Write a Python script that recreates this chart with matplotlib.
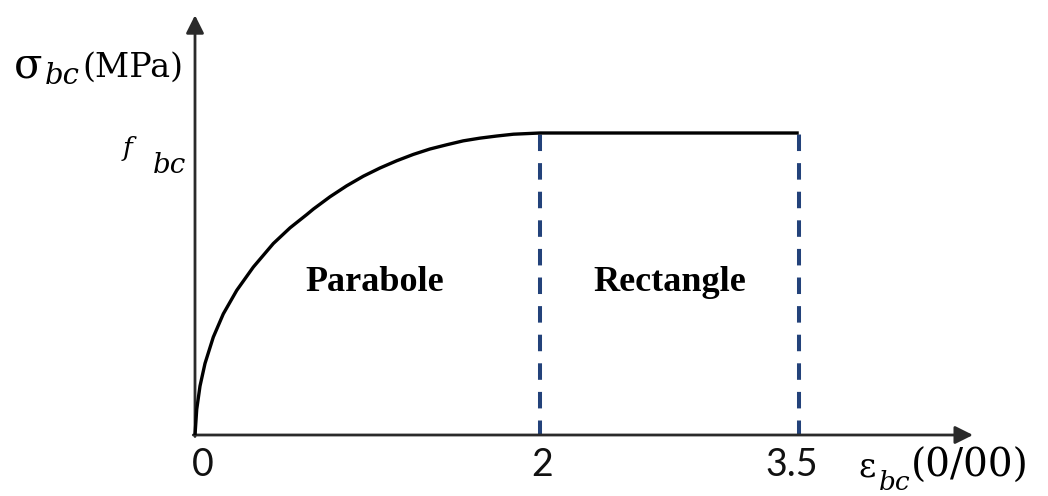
import matplotlib.pyplot as plt

# strain (per mille) and stress / f_bc along the parabola branch
eps_parab = [0.0, 0.010, 0.029, 0.058, 0.106, 0.164, 0.242, 0.338, 0.454,
             0.551, 0.648, 0.686, 0.783, 0.879, 0.976, 1.072, 1.169, 1.265,
             1.362, 1.459, 1.555, 1.652, 1.749, 1.846, 2.0]
sig_parab = [0.0, 0.085, 0.162, 0.237, 0.324, 0.401, 0.479, 0.556, 0.634,
             0.686, 0.730, 0.748, 0.789, 0.825, 0.857, 0.884, 0.908, 0.929,
             0.947, 0.961, 0.974, 0.983, 0.990, 0.996, 1.0]

# rectangle branch
eps_rect = [2.0, 3.5]
sig_rect = [1.0, 1.0]

tick_pos = [0, 2, 3.5]
tick_labels = ["0", "2", "3.5"]

# arrow tips of the two axes
x_end = 4.51
y_end = 1.39

fig = plt.figure(figsize=(10.48, 4.96), dpi=100)
ax = fig.add_axes([0, 0, 1, 1])
ax.set_xlim(-195 / 172.5, (1048 - 195) / 172.5)
ax.set_ylim(-(496 - 435) / 302, 435 / 302)
ax.axis("off")

# axes with arrows
arrow = dict(arrowstyle="-|>", mutation_scale=27, lw=2.0, color="#2a2a2a",
             shrinkA=0, shrinkB=0)
ax.annotate("", xy=(x_end, 0), xytext=(-0.01, 0), arrowprops=arrow)
ax.annotate("", xy=(0, y_end), xytext=(0, -0.005), arrowprops=arrow)

# dashed limits of the two zones
for e in tick_pos[1:]:
    ax.plot([e, e], [0, 1.0], color="#23427a", lw=2.9,
            linestyle=(0.5, (4.1, 3.0)), zorder=2)

# stress-strain law
ax.plot(eps_parab + eps_rect[1:], sig_parab + sig_rect[1:], color="black",
        lw=2.4, solid_joinstyle="round", solid_capstyle="butt", zorder=3)

# tick labels
tick_shift = [0.045, 0.01, -0.04]
for p, d, t in zip(tick_pos, tick_shift, tick_labels):
    ax.text(p + d, -0.04, t, ha="center", va="top", fontsize=27,
            family="Lato", color="#111111")

# zone names
ax.text(1.04, 0.505, "Parabole", ha="center", va="center", fontsize=26,
        family="Liberation Serif", fontweight="bold")
ax.text(2.75, 0.505, "Rectangle", ha="center", va="center", fontsize=26,
        family="Liberation Serif", fontweight="bold")

# y label
ax.text(-1.05, 1.185, "σ", ha="left", va="baseline", fontsize=30,
        family="DejaVu Serif")
ax.text(-0.872, 1.163, "bc", ha="left", va="baseline", fontsize=21,
        family="DejaVu Serif", style="italic")
ax.text(-0.655, 1.185, "(MPa)", ha="left", va="baseline", fontsize=24,
        family="DejaVu Serif")

# f_bc
ax.text(-0.417, 0.924, "f", ha="left", va="baseline", fontsize=19,
        family="DejaVu Serif", style="italic")
ax.text(-0.243, 0.868, "bc", ha="left", va="baseline", fontsize=20,
        family="DejaVu Serif", style="italic")

# x label
ax.text(3.843, -0.139, "ε", ha="left", va="baseline", fontsize=24,
        family="DejaVu Serif")
ax.text(3.965, -0.182, "bc", ha="left", va="baseline", fontsize=19,
        family="DejaVu Serif", style="italic")
ax.text(4.15, -0.139, "(0/00)", ha="left", va="baseline", fontsize=28,
        family="DejaVu Serif")

fig.savefig("out.png", dpi=100)
